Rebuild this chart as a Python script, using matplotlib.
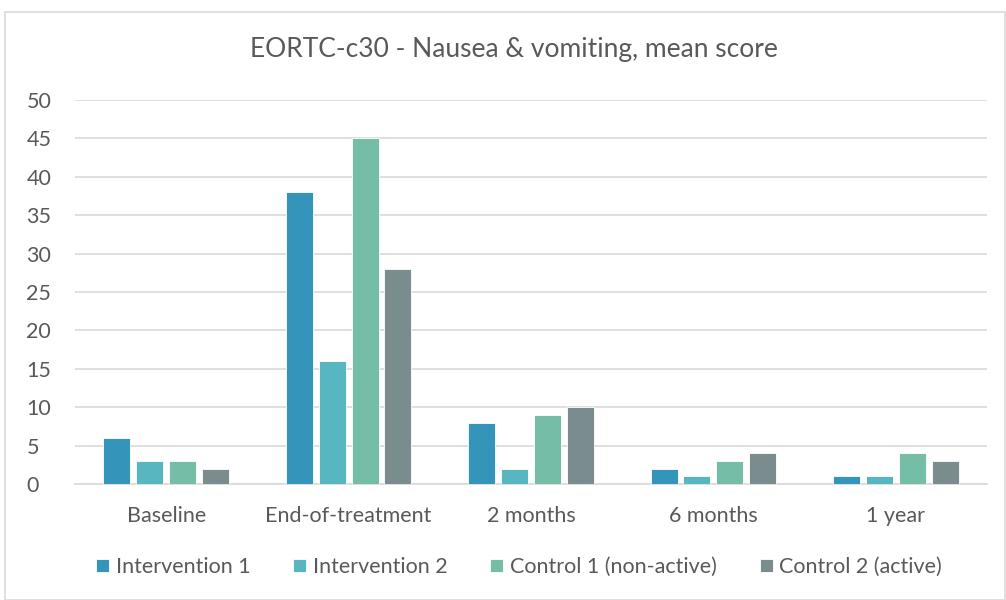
import numpy as np
import matplotlib.pyplot as plt
from matplotlib.patches import Rectangle

categories = ['Baseline', 'End-of-treatment', '2 months', '6 months', '1 year']
series_names = ['Intervention 1', 'Intervention 2', 'Control 1 (non-active)', 'Control 2 (active)']
intervention_1 = [6, 38, 8, 2, 1]
intervention_2 = [3, 16, 2, 1, 1]
control_1 = [3, 45, 9, 3, 4]
control_2 = [2, 28, 10, 4, 3]
colors = ['#3494BA', '#58B6C0', '#75BDA7', '#7A8C8E']

plt.rcParams['font.family'] = ['Lato', 'DejaVu Sans']

fig = plt.figure(figsize=(10.06, 6), dpi=100)
# chart border
fig.patches.append(Rectangle((5 / 1006, 0), 1000 / 1006, 1 - 12 / 600, transform=fig.transFigure,
                             fill=False, edgecolor='#D9D9D9', linewidth=1.2))

ax = fig.add_axes([75 / 1006, 116 / 600, 912 / 1006, 384 / 600])

x = np.arange(len(categories))
width = 0.148
step = 0.18
all_series = [intervention_1, intervention_2, control_1, control_2]
for i, (vals, name, c) in enumerate(zip(all_series, series_names, colors)):
    ax.bar(x + (i - 1.5) * step, vals, width, color=c, edgecolor='white', linewidth=0.6,
           label=name, zorder=3)

ax.set_xlim(-0.5, len(categories) - 0.5)
ax.set_ylim(0, 50)
ax.set_yticks(range(0, 51, 5))
ax.set_xticks(x)
ax.set_xticklabels(categories)
ax.grid(axis='y', color='#D9D9D9', linewidth=1.2, zorder=0)
for s in ['top', 'right', 'left']:
    ax.spines[s].set_visible(False)
ax.spines['bottom'].set_color('#D9D9D9')
ax.spines['bottom'].set_linewidth(1.2)
ax.tick_params(axis='both', length=0, labelsize=15.5, colors='#595959')
ax.tick_params(axis='y', pad=35)
ax.tick_params(axis='x', pad=16)
for lbl in ax.get_yticklabels():
    lbl.set_horizontalalignment('left')

fig.text(0.511, 1 - 50 / 600, 'EORTC-c30 - Nausea & vomiting, mean score', ha='center', va='center',
         fontsize=19, color='#595959')

fig.legend(loc='center', bbox_to_anchor=(0.516, 1 - 567 / 600), ncol=4, frameon=False,
           fontsize=15.5, labelcolor='#595959', handlelength=0.6, handleheight=0.6,
           handletextpad=0.3, columnspacing=2.0)

fig.savefig('out.png', dpi=100)
